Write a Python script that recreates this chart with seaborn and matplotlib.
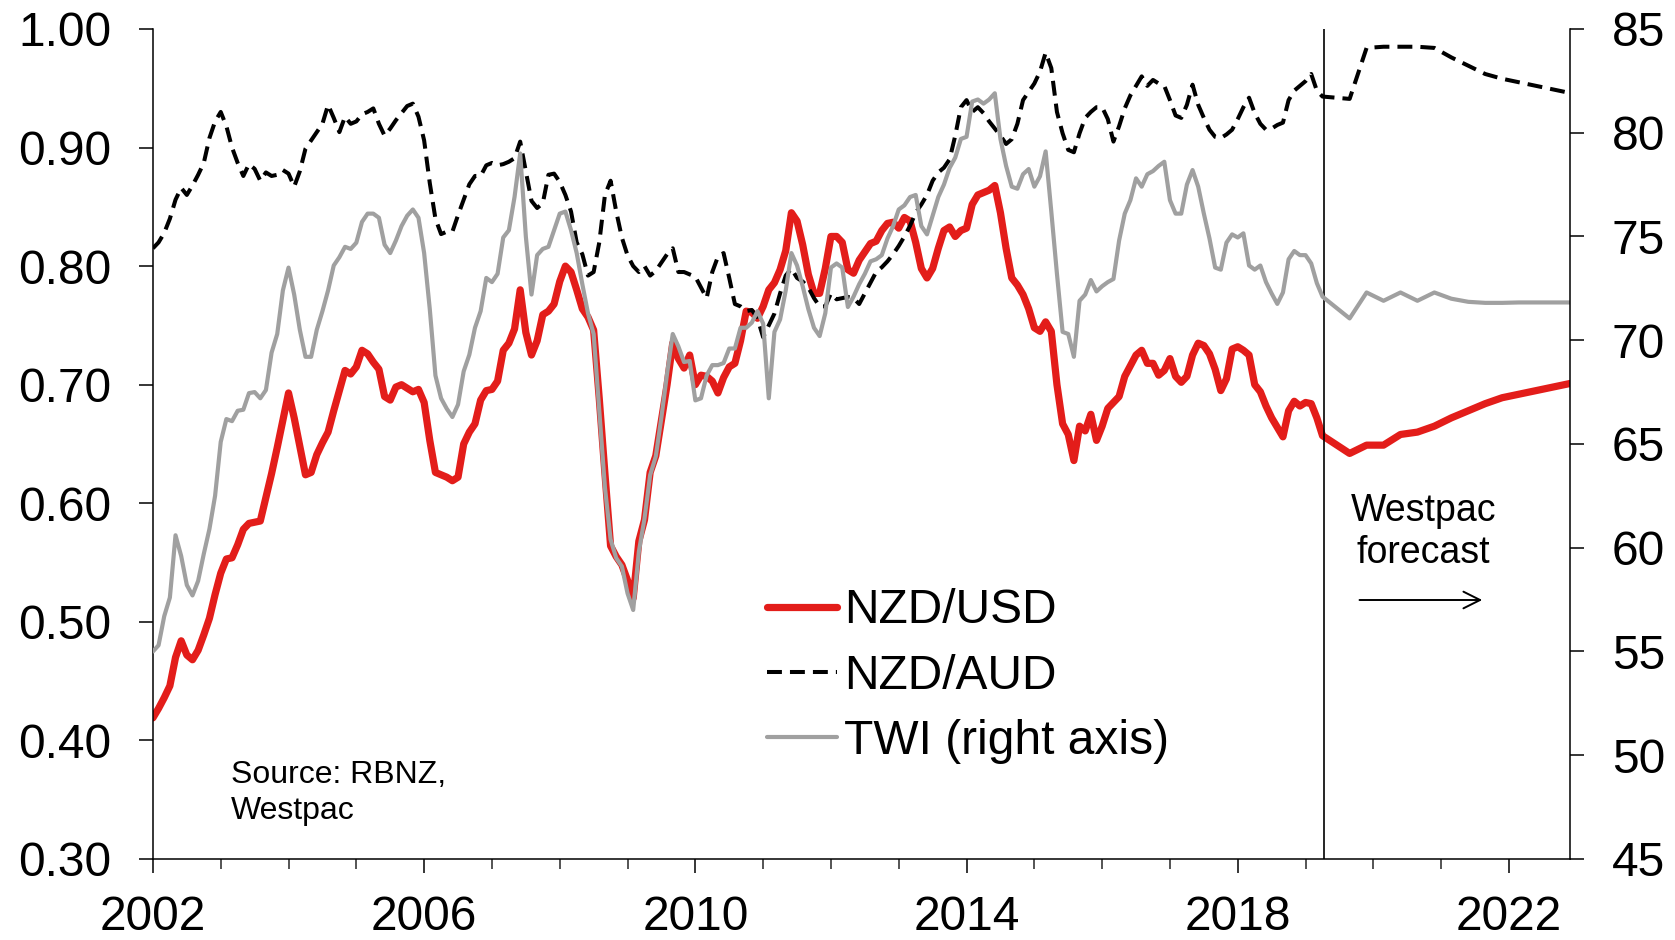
import numpy as np
import pandas as pd
import matplotlib
matplotlib.use("Agg")
import matplotlib.pyplot as plt
import seaborn as sns
from matplotlib.lines import Line2D
from matplotlib.ticker import MultipleLocator, FormatStrFormatter

# ---------------- data (monthly from Jan 2002 to Apr 2019) ----------------
nzd_usd_actual = [
    .419, .427, .436, .446, .470, .484, .472, .468, .476, .489, .503, .523,
    .541, .553, .554, .565, .578, .583, .584, .585, .605, .625, .647, .670,
    .693, .672, .648, .624, .626, .641, .651, .660, .678, .695, .712, .709,
    .715, .729, .726, .719, .713, .690, .687, .698, .700, .697, .694, .696,
    .685, .653, .626, .624, .622, .619, .622, .650, .660, .667, .687, .695,
    .696, .703, .729, .735, .747, .780, .744, .725, .737, .759, .762, .768,
    .787, .800, .795, .780, .764, .757, .746, .688, .625, .564, .555, .548,
    .535, .520, .568, .586, .626, .640, .670, .700, .735, .722, .714, .725,
    .700, .708, .707, .703, .693, .706, .715, .718, .737, .762, .761, .756,
    .766, .780, .786, .797, .813, .845, .838, .818, .793, .777, .777, .798,
    .825, .825, .820, .797, .794, .805, .812, .819, .821, .830, .836, .837,
    .832, .841, .838, .820, .798, .790, .798, .815, .830, .833, .825, .830,
    .832, .852, .860, .862, .864, .868, .845, .815, .790, .784, .776, .764,
    .748, .745, .753, .745, .700, .667, .658, .636, .665, .661, .675, .653,
    .665, .680, .685, .690, .707, .716, .725, .729, .718, .718, .708, .712,
    .722, .707, .702, .707, .725, .735, .733, .726, .713, .695, .705, .730,
    .732, .729, .725, .700, .694, .682, .672, .664, .656, .678, .686, .682,
    .685, .684, .672, .657,
]
nzd_aud_actual = [
    .815, .820, .828, .840, .856, .866, .860, .868, .877, .887, .908, .922,
    .930, .918, .900, .887, .876, .886, .882, .872, .879, .876, .877, .881,
    .878, .867, .880, .899, .906, .913, .920, .936, .925, .913, .926, .920,
    .922, .928, .930, .933, .920, .910, .916, .923, .929, .935, .937, .926,
    .906, .870, .840, .827, .829, .829, .843, .856, .869, .876, .876, .885,
    .887, .885, .886, .888, .891, .905, .880, .855, .849, .853, .877, .878,
    .871, .860, .846, .820, .810, .792, .795, .820, .860, .872, .846, .824,
    .809, .800, .795, .800, .792, .796, .803, .810, .815, .795, .795, .793,
    .791, .782, .773, .795, .808, .811, .790, .768, .766, .762, .763, .756,
    .740, .750, .760, .777, .792, .798, .790, .787, .782, .773, .766, .766,
    .777, .772, .773, .774, .773, .768, .777, .786, .795, .799, .804, .810,
    .817, .825, .834, .845, .852, .860, .872, .879, .883, .890, .910, .934,
    .940, .930, .934, .929, .922, .916, .910, .903, .907, .920, .940, .947,
    .954, .964, .980, .967, .930, .912, .898, .896, .912, .925, .930, .934,
    .934, .924, .905, .918, .933, .944, .952, .960, .952, .957, .954, .952,
    .940, .927, .925, .936, .953, .936, .925, .915, .909, .908, .911, .915,
    .924, .934, .942, .929, .920, .915, .916, .919, .921, .940, .948, .952,
    .956, .962, .948, .943,
]
twi_actual = [
    55.0, 55.3, 56.7, 57.6, 60.6, 59.6, 58.2, 57.7, 58.4, 59.7, 60.9, 62.5,
    65.1, 66.2, 66.1, 66.6, 66.65, 67.45, 67.5, 67.2, 67.6, 69.4, 70.3, 72.4,
    73.5, 72.2, 70.5, 69.2, 69.2, 70.5, 71.4, 72.4, 73.6, 74.0, 74.5, 74.4,
    74.7, 75.7, 76.1, 76.1, 75.9, 74.6, 74.2, 74.8, 75.5, 76.0, 76.3, 75.9,
    74.2, 71.5, 68.3, 67.2, 66.7, 66.3, 66.9, 68.5, 69.3, 70.6, 71.4, 73.0,
    72.8, 73.2, 74.95, 75.3, 76.9, 79.0, 75.0, 72.2, 74.1, 74.4, 74.5, 75.3,
    76.1, 76.2, 75.3, 74.2, 72.7, 71.3, 70.3, 66.6, 62.9, 60.4, 59.5, 59.1,
    57.8, 57.0, 59.8, 61.4, 63.5, 64.4, 66.3, 68.4, 70.3, 69.7, 68.95, 69.0,
    67.1, 67.2, 68.3, 68.8, 68.8, 68.9, 69.6, 69.6, 70.6, 70.6, 70.85, 71.4,
    70.8, 67.2, 70.4, 71.0, 72.4, 74.2, 73.6, 72.6, 71.5, 70.6, 70.2, 71.3,
    73.5, 73.7, 73.5, 71.6, 72.1, 72.7, 73.2, 73.8, 73.9, 74.1, 74.9, 75.5,
    76.3, 76.5, 76.9, 77.0, 75.5, 75.1, 76.0, 76.9, 77.5, 78.3, 78.8, 79.7,
    79.8, 81.5, 81.6, 81.4, 81.6, 81.9, 79.7, 78.4, 77.4, 77.3, 78.0, 78.25,
    77.4, 77.9, 79.1, 76.2, 73.2, 70.4, 70.3, 69.2, 71.9, 72.2, 72.9, 72.35,
    72.6, 72.8, 72.95, 74.8, 76.1, 76.75, 77.8, 77.4, 78.0, 78.15, 78.4, 78.6,
    76.75, 76.1, 76.1, 77.5, 78.2, 77.4, 76.1, 74.9, 73.5, 73.4, 74.7, 75.1,
    74.95, 75.15, 73.6, 73.4, 73.6, 72.8, 72.25, 71.75, 72.3, 73.9, 74.3, 74.1,
    74.1, 73.7, 72.75, 72.1,
]

# Westpac forecasts (quarterly)
forecast_dates = [2019.65, 2019.9, 2020.15, 2020.4, 2020.65, 2020.9, 2021.15,
                  2021.4, 2021.65, 2021.9, 2022.15, 2022.4, 2022.65, 2022.9]
nzd_usd_fcst = [.642, .649, .649, .658, .660, .665, .672,
                .678, .684, .689, .692, .695, .698, .701]
nzd_aud_fcst = [.941, .984, .985, .985, .985, .984, .976,
                .969, .962, .958, .955, .952, .949, .946]
twi_fcst = [71.05, 72.3, 71.9, 72.3, 71.9, 72.3, 72.0,
            71.85, 71.8, 71.8, 71.82, 71.82, 71.82, 71.82]

forecast_start = 2019.27
x_ticks = [2002, 2006, 2010, 2014, 2018, 2022]
left_ticks = [0.30, 0.40, 0.50, 0.60, 0.70, 0.80, 0.90, 1.00]
right_ticks = [45, 50, 55, 60, 65, 70, 75, 80, 85]
labels = ["NZD/USD", "NZD/AUD", "TWI (right axis)"]

# ---------------- build frame ----------------
months = 2002 + np.arange(len(nzd_usd_actual)) / 12.0
dates = np.concatenate([months, forecast_dates])
df = pd.DataFrame({
    "date": dates,
    "nzd_usd": list(nzd_usd_actual) + list(nzd_usd_fcst),
    "nzd_aud": list(nzd_aud_actual) + list(nzd_aud_fcst),
    "twi": list(twi_actual) + list(twi_fcst),
})

RED = "#E31D1A"
GRAY = "#A0A0A0"
DASH = (0, (3.7, 2.0))

sns.set_theme(style="white")
plt.rcParams['font.family'] = ['Liberation Sans', 'DejaVu Sans']
plt.rcParams['text.color'] = 'black'
plt.rcParams['axes.edgecolor'] = 'black'

fig = plt.figure(figsize=(16.75, 9.4), dpi=100)
ax = fig.add_axes([0.0913, 0.0862, 0.8460, 0.8830])
ax2 = ax.twinx()

sns.lineplot(data=df, x="date", y="nzd_usd", ax=ax, color=RED, linewidth=5.2,
             estimator=None, sort=False, solid_joinstyle='round')
sns.lineplot(data=df, x="date", y="nzd_aud", ax=ax, color="black", linewidth=2.9,
             estimator=None, sort=False, linestyle=DASH)
sns.lineplot(data=df, x="date", y="twi", ax=ax2, color=GRAY, linewidth=3.0,
             estimator=None, sort=False)

ax.axvline(forecast_start, color="black", linewidth=1.2, zorder=5)

ax.set_xlim(2002, 2022.9)
ax.set_ylim(0.30, 1.00)
ax2.set_ylim(45, 85)
ax.set_xlabel("")
ax.set_ylabel("")
ax2.set_ylabel("")

ax.set_xticks(x_ticks)
ax.set_xticklabels([str(t) for t in x_ticks])
ax.xaxis.set_minor_locator(MultipleLocator(1))
ax.set_yticks(left_ticks)
ax.yaxis.set_major_formatter(FormatStrFormatter('%.2f'))
ax2.set_yticks(right_ticks)

ax.tick_params(axis='x', which='major', bottom=True, direction='out', length=10,
               width=1.1, labelsize=34.5, pad=16, colors='black')
ax.tick_params(axis='x', which='minor', bottom=True, direction='out', length=7,
               width=1.1)
ax.tick_params(axis='y', left=True, direction='out', length=10, width=1.1,
               labelsize=34.5, pad=20, colors='black')
ax2.tick_params(axis='y', right=True, direction='out', length=10, width=1.1,
                labelsize=34.5, pad=20, colors='black')

for a in (ax, ax2):
    a.spines['top'].set_visible(False)
    for s in a.spines.values():
        s.set_linewidth(1.1)
        s.set_color('black')
ax.spines['right'].set_visible(False)
ax2.spines['left'].set_visible(False)
ax2.spines['bottom'].set_visible(False)

handles = [
    Line2D([], [], color=RED, linewidth=5.2, solid_capstyle='round'),
    Line2D([], [], color='black', linewidth=2.9, linestyle=DASH),
    Line2D([], [], color=GRAY, linewidth=3.0),
]
ax2.legend(handles, labels, loc='upper left', bbox_to_anchor=(0.458, 0.374),
           bbox_transform=fig.transFigure, frameon=False, fontsize=34.5,
           handlelength=1.45, handletextpad=0.15, labelspacing=0.42,
           borderpad=0, borderaxespad=0)

fig.text(0.138, 0.192, "Source: RBNZ,\nWestpac", fontsize=23, ha='left', va='top',
         linespacing=1.3)
fig.text(0.8496, 0.434, "Westpac\nforecast", fontsize=27, ha='center',
         va='center', linespacing=1.22)
ax2.annotate('', xy=(0.8866, 0.3617), xytext=(0.810, 0.3617),
             xycoords='figure fraction', textcoords='figure fraction',
             arrowprops=dict(arrowstyle='->', lw=1.4, color='black',
                             mutation_scale=30))

fig.savefig("out.png", dpi=100)
